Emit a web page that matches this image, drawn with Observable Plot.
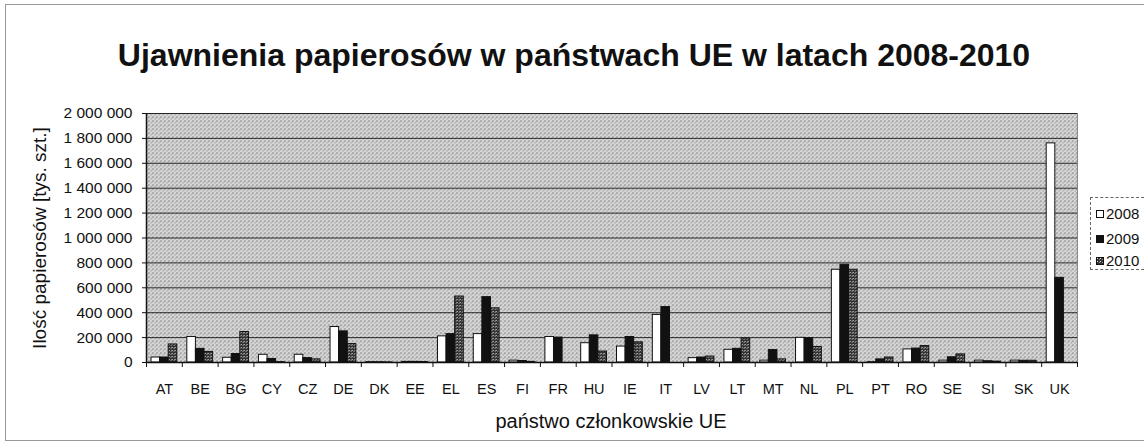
<!DOCTYPE html>
<html><head><meta charset="utf-8">
<script src="https://cdn.jsdelivr.net/npm/d3@7"></script>
<script src="https://cdn.jsdelivr.net/npm/@observablehq/plot@0.6"></script>
<style>
body{margin:0;background:#fff;font-family:"Liberation Sans",Arial,sans-serif;}
#wrap{position:relative;width:1144px;height:445px;overflow:hidden;background:#fff;}
#border{position:absolute;left:5px;top:4px;width:1150px;height:437px;border:1px solid #999;box-sizing:border-box;}
#title{position:absolute;left:0;top:37px;width:1148px;text-align:center;font-weight:bold;font-size:32px;color:#111;line-height:36px;}
#chart{position:absolute;left:0;top:100px;}
#ytitle{position:absolute;left:40px;top:238px;transform:translate(-50%,-50%) rotate(-90deg);white-space:nowrap;font-size:19px;color:#111;}
#xtitle{position:absolute;left:611px;top:421px;transform:translate(-50%,-50%);white-space:nowrap;font-size:20px;color:#111;}
#legend{position:absolute;left:1090px;top:197px;width:90px;height:73px;border:1px dashed #666;box-sizing:border-box;font-size:15px;color:#111;}
.li{position:absolute;left:5px;height:20px;line-height:20px;white-space:nowrap;}
.sw{display:inline-block;width:8px;height:8px;vertical-align:middle;margin-right:2px;position:relative;top:-1px;}
</style></head>
<body>
<svg width="0" height="0" style="position:absolute">
<defs>
<pattern id="bgpat" width="4" height="4" patternUnits="userSpaceOnUse">
<rect width="4" height="4" fill="#d6d6d6"/>
<rect x="0" y="0" width="1" height="1" fill="#444"/>
<rect x="2" y="2" width="1" height="1" fill="#888"/>
<rect x="3" y="1" width="1" height="1" fill="#a0a0a0"/>
</pattern>
<pattern id="p2010" width="3" height="3" patternUnits="userSpaceOnUse">
<rect width="3" height="3" fill="#333"/>
<rect x="1" y="1" width="1" height="1" fill="#e8e8e8"/>
<rect x="0" y="2" width="1" height="1" fill="#999"/>
</pattern>
</defs>
</svg>
<div id="wrap">
<div id="border"></div>
<div id="title">Ujawnienia papierosów w państwach UE w latach 2008-2010</div>
<div id="chart"></div>
<div id="ytitle">Ilość papierosów [tys. szt.]</div>
<div id="xtitle">państwo członkowskie UE</div>
<div id="legend"></div>
</div>
<script>
const countries = ["AT","BE","BG","CY","CZ","DE","DK","EE","EL","ES","FI","FR","HU","IE","IT","LV","LT","MT","NL","PL","PT","RO","SE","SI","SK","UK"];
const years = ["2008","2009","2010"];
const v2008 = [40000,205000,38000,62000,62000,285000,3000,5000,210000,228000,15000,205000,155000,128000,382000,35000,102000,15000,198000,745000,3000,105000,15000,15000,15000,1760000];
const v2009 = [40000,110000,68000,28000,35000,250000,2000,5000,228000,525000,12000,200000,218000,205000,445000,40000,110000,100000,195000,785000,25000,112000,42000,10000,14000,680000];
const v2010 = [145000,85000,245000,3000,25000,148000,1000,4000,530000,435000,5000,0,88000,162000,0,48000,192000,25000,125000,745000,40000,132000,65000,7000,14000,0];
const yTicks = [0,200000,400000,600000,800000,1000000,1200000,1400000,1600000,1800000,2000000];

const data = countries.map((c, i) => ({country: c, v2008: v2008[i], v2009: v2009[i], v2010: v2010[i]}));

const W = 1144, H = 345, mL = 146, mR = 67, mT = 13, mB = 83;
const band = (W - mL - mR) / countries.length;
const bw = 8.6;
const inset = (band - bw) / 2;
const fmt = d => d3.format(",")(d).replace(/,/g, " ");

const chart = Plot.plot({
  width: W, height: H,
  marginLeft: mL, marginRight: mR, marginTop: mT, marginBottom: mB,
  style: {fontFamily: '"Liberation Sans", Arial, sans-serif', background: "transparent", color: "#111"},
  x: {type: "band", domain: countries, padding: 0, round: false, axis: null},
  y: {domain: [0, 2000000], axis: null},
  marks: [
    Plot.frame({fill: "url(#bgpat)", stroke: "#888"}),
    Plot.gridY(yTicks, {stroke: "#111", strokeOpacity: 0.85, strokeWidth: 1}),
    Plot.barY(data, {x: "country", y: "v2008", fill: "white", stroke: "#111", insetLeft: inset, insetRight: inset, dx: -bw}),
    Plot.barY(data, {x: "country", y: "v2009", fill: "#111", stroke: "#111", insetLeft: inset, insetRight: inset}),
    Plot.barY(data, {x: "country", y: "v2010", fill: "url(#p2010)", stroke: "#111", insetLeft: inset, insetRight: inset, dx: bw}),
    Plot.ruleY([0], {stroke: "#111", strokeWidth: 1.3}),
    Plot.ruleX([countries[0]], {x: d => d, dx: -band / 2, stroke: "#111", strokeWidth: 1.5}),
    Plot.axisY(yTicks, {tickSize: 4, tickPadding: 10, tickFormat: fmt, fontSize: 15.5, label: null, stroke: "#111"}),
    Plot.axisX(countries, {tickSize: 5, dx: -band / 2, tickFormat: () => "", label: null, stroke: "#111"}),
    Plot.axisX([countries[countries.length - 1]], {tickSize: 5, dx: band / 2, tickFormat: () => "", label: null, stroke: "#111"}),
    Plot.axisX(countries, {tickSize: 0, tickPadding: 21, fontSize: 14.5, label: null})
  ]
});
document.getElementById("chart").appendChild(chart);

const legend = document.getElementById("legend");
const swatches = [
  {fill: "white", stroke: "#111"},
  {fill: "#111", stroke: "#111"},
  {fill: "url(#p2010)", stroke: "#111"}
];
const tops = [6, 31, 53];
years.forEach((y, i) => {
  const d = document.createElement("div");
  d.className = "li";
  d.style.top = tops[i] + "px";
  d.innerHTML = `<svg class="sw" width="8" height="8"><rect x="0.5" y="0.5" width="7" height="7" fill="${swatches[i].fill}" stroke="${swatches[i].stroke}"/></svg>${y}`;
  legend.appendChild(d);
});
</script>
</body></html>
